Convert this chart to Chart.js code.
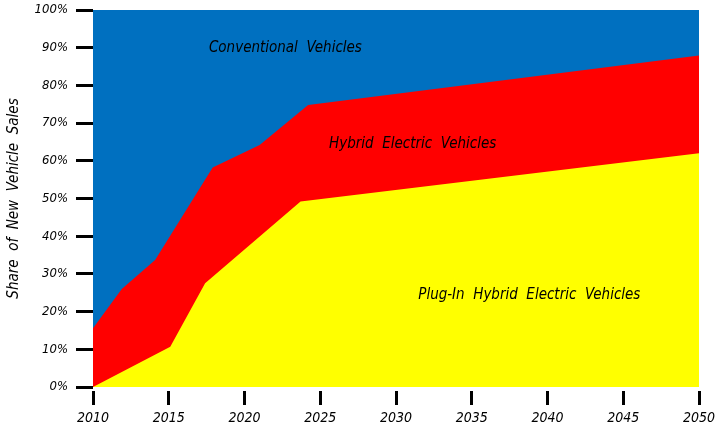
<!DOCTYPE html>
<html>
<head>
<meta charset="utf-8">
<script src="https://cdn.jsdelivr.net/npm/chart.js@4"></script>
<style>
  html, body { margin: 0; padding: 0; background: #fff; }
  #wrap { width: 715px; height: 428px; }
</style>
</head>
<body>
<div id="wrap"><canvas id="salesChart" width="715" height="428"></canvas></div>
<script>
// boundary between plug-in hybrids and hybrids (share of sales, %)
const phevYears = [2010, 2015.1, 2017.4, 2023.7, 2050];
const phevShare = [0, 10.7, 27.5, 49.2, 62];

// top of the hybrid band (plug-in + hybrid, %)
const hevYears = [2010, 2011.9, 2014.1, 2017.9, 2021, 2024.2, 2050];
const hevTop = [15.6, 26, 33.7, 58.2, 64.2, 74.8, 87.9];

// conventional vehicles fill the rest up to 100%
const convYears = [2010, 2050];
const convTop = [100, 100];

const yTicks = [0, 10, 20, 30, 40, 50, 60, 70, 80, 90, 100];
const xTicks = [2010, 2015, 2020, 2025, 2030, 2035, 2040, 2045, 2050];

// area labels: [text, year, share]
const areaLabels = [
  ["Conventional  Vehicles", 2022.7, 90],
  ["Hybrid  Electric  Vehicles", 2031.1, 64.5],
  ["Plug-In  Hybrid  Electric  Vehicles", 2038.8, 24.4],
];

const fontFam = "'Liberation Sans Narrow', 'DejaVu Sans Condensed', 'Liberation Sans', sans-serif";

function pts(xs, ys) {
  return xs.map((x, i) => ({ x: x, y: ys[i] }));
}

const labelPlugin = {
  id: "areaLabels",
  afterDatasetsDraw(chart) {
    const ctx = chart.ctx;
    const xs = chart.scales.x, ys = chart.scales.y;
    ctx.save();
    ctx.font = "italic 15px " + fontFam;
    ctx.fillStyle = "#000";
    ctx.textAlign = "center";
    ctx.textBaseline = "middle";
    areaLabels.forEach(([t, yr, v]) => {
      ctx.fillText(t, xs.getPixelForValue(yr), ys.getPixelForValue(v));
    });
    ctx.restore();
  },
};

const ctx = document.getElementById("salesChart").getContext("2d");
new Chart(ctx, {
  type: "line",
  data: {
    datasets: [
      {
        label: "Plug-In Hybrid Electric Vehicles",
        data: pts(phevYears, phevShare),
        backgroundColor: "#ffff00",
        fill: "origin",
      },
      {
        label: "Hybrid Electric Vehicles",
        data: pts(hevYears, hevTop),
        backgroundColor: "#ff0000",
        fill: "origin",
      },
      {
        label: "Conventional Vehicles",
        data: pts(convYears, convTop),
        backgroundColor: "#0070c0",
        fill: "origin",
      },
    ],
  },
  options: {
    responsive: false,
    animation: false,
    layout: { padding: { top: 10, right: 16, left: 0, bottom: 0 } },
    elements: {
      point: { radius: 0 },
      line: { borderWidth: 0, tension: 0 },
    },
    plugins: {
      legend: { display: false },
      tooltip: { enabled: false },
    },
    scales: {
      x: {
        type: "linear",
        min: 2010,
        max: 2050,
        afterBuildTicks: (s) => { s.ticks = xTicks.map((v) => ({ value: v })); },
        afterFit: (s) => { s.height = 41; s.paddingLeft = 0; s.paddingRight = 0; },
        border: { display: false },
        grid: {
          drawOnChartArea: false,
          color: "#000",
          lineWidth: 3,
          tickLength: 18,
          tickBorderDash: [0, 4, 18, 0],
        },
        ticks: {
          color: "#000",
          padding: 5,
          maxRotation: 0,
          font: { family: fontFam, size: 14, style: "italic" },
          callback: (v) => String(v),
        },
      },
      y: {
        min: 0,
        max: 100,
        afterBuildTicks: (s) => { s.ticks = yTicks.map((v) => ({ value: v })); },
        afterFit: (s) => { s.width = 93; s.paddingTop = 0; s.paddingBottom = 0; },
        border: { display: false },
        grid: {
          drawOnChartArea: false,
          color: "#000",
          lineWidth: 3,
          tickLength: 17,
        },
        ticks: {
          color: "#000",
          padding: 8,
          font: { family: fontFam, size: 13, style: "italic" },
          callback: (v) => v + "%",
        },
        title: {
          display: true,
          text: "Share  of  New  Vehicle  Sales",
          color: "#000",
          padding: { top: 5, bottom: 4 },
          font: { family: fontFam, size: 15, style: "italic" },
        },
      },
    },
  },
  plugins: [labelPlugin],
});
</script>
</body>
</html>
